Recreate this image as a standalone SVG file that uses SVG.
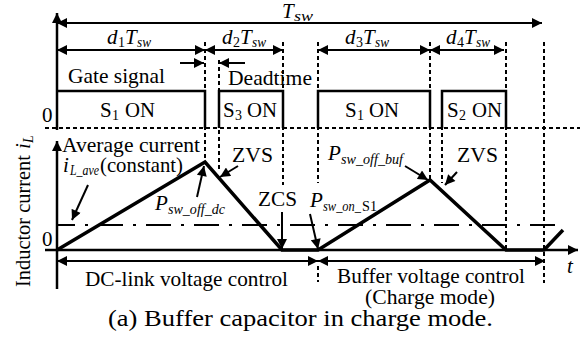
<svg xmlns="http://www.w3.org/2000/svg" width="580" height="342" viewBox="0 0 580 342" font-family="'Liberation Serif', Tinos, 'Times New Roman', Times, serif">
<style>
text{font-family:"Liberation Serif",Tinos,"Times New Roman",Times,serif;font-size:21px;fill:#000}
.it{font-style:italic}
.sub{font-size:14px}
.ps{font-size:14.5px;font-style:italic}
.ln{stroke:#000;fill:none;stroke-width:2}
.ax{stroke:#000;fill:none;stroke-width:2.5}
.dash{stroke:#000;fill:none;stroke-width:2;stroke-dasharray:4,3}
.pulse{stroke:#000;fill:none;stroke-width:2.5}
.wave{stroke:#000;fill:none;stroke-width:3.5;stroke-linejoin:miter}
.avg{stroke:#000;fill:none;stroke-width:2;stroke-dasharray:25,10,3,10;stroke-dashoffset:7}
</style>
<defs>
<marker id="ah" viewBox="0 0 10 10" refX="10" refY="5" markerWidth="11" markerHeight="10" markerUnits="userSpaceOnUse" orient="auto-start-reverse"><path d="M0,0 L10,5 L0,10 z" fill="#000"/></marker>
</defs>
<rect width="580" height="342" fill="#fff"/>
<g id="connectors">
<line class="ax" x1="57" y1="130" x2="57" y2="13" marker-end="url(#ah)"/>
<line class="ax" x1="57" y1="289" x2="57" y2="141" marker-end="url(#ah)"/>
<line class="ax" x1="45" y1="250" x2="578" y2="250" marker-end="url(#ah)"/>
<line class="dash" x1="45" y1="128" x2="580" y2="128"/>
<line class="ln" x1="57" y1="23" x2="542" y2="23" marker-start="url(#ah)" marker-end="url(#ah)"/>
<line class="ln" x1="57" y1="50" x2="205" y2="50" marker-start="url(#ah)" marker-end="url(#ah)"/>
<line class="ln" x1="205" y1="50" x2="283" y2="50" marker-start="url(#ah)" marker-end="url(#ah)"/>
<line class="ln" x1="318" y1="50" x2="430" y2="50" marker-start="url(#ah)" marker-end="url(#ah)"/>
<line class="ln" x1="430" y1="50" x2="504" y2="50" marker-start="url(#ah)" marker-end="url(#ah)"/>
<line class="ln" x1="180" y1="63" x2="204" y2="63" marker-end="url(#ah)"/>
<line class="ln" x1="245" y1="63" x2="219" y2="63" marker-end="url(#ah)"/>
<line class="ln" x1="57" y1="261" x2="318" y2="261" marker-start="url(#ah)" marker-end="url(#ah)"/>
<line class="ln" x1="318" y1="261" x2="545" y2="261" marker-start="url(#ah)" marker-end="url(#ah)"/>
<line class="dash" x1="205" y1="42" x2="205" y2="162"/>
<line class="dash" x1="219" y1="60" x2="219" y2="172"/>
<line class="dash" x1="283" y1="42" x2="283" y2="185"/>
<line class="dash" x1="318" y1="42" x2="318" y2="183"/>
<line class="dash" x1="318" y1="266" x2="318" y2="282"/>
<line class="dash" x1="430" y1="42" x2="430" y2="180"/>
<line class="dash" x1="442" y1="91" x2="442" y2="183"/>
<line class="dash" x1="506" y1="42" x2="506" y2="250"/>
<line class="dash" x1="544" y1="42" x2="544" y2="283"/>
<path class="pulse" d="M57,91 H205 V128"/>
<path class="pulse" d="M219,128 V91 H283 V128"/>
<path class="pulse" d="M318,128 V91 H430 V128"/>
<path class="pulse" d="M442,128 V91 H506 V128"/>
<line class="avg" x1="57" y1="225" x2="565" y2="225"/>
<path class="wave" d="M57,250 L205,162 L282,250 H318 L430,180 L506,250 H544 L563,230"/>
<line class="ln" x1="88" y1="185" x2="72" y2="220" marker-end="url(#ah)"/>
<line class="ln" x1="197" y1="197" x2="204" y2="166" marker-end="url(#ah)"/>
<line class="ln" x1="238" y1="166" x2="220" y2="177" marker-end="url(#ah)"/>
<line class="ln" x1="282" y1="212" x2="282" y2="249" marker-end="url(#ah)"/>
<line class="ln" x1="310" y1="214" x2="318" y2="249" marker-end="url(#ah)"/>
<line class="ln" x1="405" y1="166" x2="428" y2="180" marker-end="url(#ah)"/>
<line class="ln" x1="457" y1="172" x2="445" y2="185" marker-end="url(#ah)"/>
</g>
<g id="labels-time">
<text y="18"><tspan class="it" x="282">T</tspan><tspan class="it sub" x="294" dy="3" textLength="19" lengthAdjust="spacingAndGlyphs">sw</tspan></text>
<text y="44"><tspan class="it" x="107">d</tspan><tspan class="sub" x="118" dy="3">1</tspan><tspan class="it" x="125" dy="-3">T</tspan><tspan class="it sub" x="137" dy="3" textLength="14" lengthAdjust="spacingAndGlyphs">sw</tspan></text>
<text y="44"><tspan class="it" x="222">d</tspan><tspan class="sub" x="233" dy="3">2</tspan><tspan class="it" x="240" dy="-3">T</tspan><tspan class="it sub" x="252" dy="3" textLength="14" lengthAdjust="spacingAndGlyphs">sw</tspan></text>
<text y="44"><tspan class="it" x="345">d</tspan><tspan class="sub" x="356" dy="3">3</tspan><tspan class="it" x="363" dy="-3">T</tspan><tspan class="it sub" x="375" dy="3" textLength="14" lengthAdjust="spacingAndGlyphs">sw</tspan></text>
<text y="44"><tspan class="it" x="446">d</tspan><tspan class="sub" x="457" dy="3">4</tspan><tspan class="it" x="464" dy="-3">T</tspan><tspan class="it sub" x="476" dy="3" textLength="14" lengthAdjust="spacingAndGlyphs">sw</tspan></text>
</g>
<g id="gate">
<text x="68" y="83" textLength="97" lengthAdjust="spacingAndGlyphs">Gate signal</text>
<text x="228" y="85" textLength="84" lengthAdjust="spacingAndGlyphs">Deadtime</text>
<text x="42" y="122">0</text>
<text y="117"><tspan x="100">S</tspan><tspan class="sub" x="112" dy="3">1</tspan><tspan x="125" dy="-3" textLength="30" lengthAdjust="spacingAndGlyphs">ON</tspan></text>
<text y="117"><tspan x="223">S</tspan><tspan class="sub" x="235" dy="3">3</tspan><tspan x="247" dy="-3" textLength="30" lengthAdjust="spacingAndGlyphs">ON</tspan></text>
<text y="117"><tspan x="345">S</tspan><tspan class="sub" x="357" dy="3">1</tspan><tspan x="369" dy="-3" textLength="30" lengthAdjust="spacingAndGlyphs">ON</tspan></text>
<text y="117"><tspan x="447">S</tspan><tspan class="sub" x="459" dy="3">2</tspan><tspan x="472" dy="-3" textLength="30" lengthAdjust="spacingAndGlyphs">ON</tspan></text>
</g>
<g id="current">
<text x="62" y="152" textLength="138" lengthAdjust="spacingAndGlyphs">Average current</text>
<text y="172"><tspan class="it" x="63">i</tspan><tspan class="it sub" x="70" dy="3" textLength="29" lengthAdjust="spacingAndGlyphs">L_ave</tspan><tspan x="100" dy="-3" textLength="83" lengthAdjust="spacingAndGlyphs">(constant)</tspan></text>
<text x="232" y="162" textLength="41" lengthAdjust="spacingAndGlyphs">ZVS</text>
<text x="457" y="162" textLength="41" lengthAdjust="spacingAndGlyphs">ZVS</text>
<text x="258" y="206" textLength="39" lengthAdjust="spacingAndGlyphs">ZCS</text>
<text y="210"><tspan class="it" x="155">P</tspan><tspan class="ps" x="168" dy="4" textLength="57" lengthAdjust="spacingAndGlyphs">sw_off_dc</tspan></text>
<text y="207"><tspan class="it" x="310">P</tspan><tspan class="ps" x="323" dy="4" textLength="38" lengthAdjust="spacingAndGlyphs">sw_on_</tspan><tspan style="font-size:14.5px" x="362" textLength="15" lengthAdjust="spacingAndGlyphs">S1</tspan></text>
<text y="160"><tspan class="it" x="328">P</tspan><tspan class="ps" x="341" dy="4" textLength="62" lengthAdjust="spacingAndGlyphs">sw_off_buf</tspan></text>
<text x="42" y="246">0</text>
<text transform="translate(30,287) rotate(-90)" y="0"><tspan x="0" textLength="132" lengthAdjust="spacingAndGlyphs">Inductor current</tspan><tspan class="it" x="138">i</tspan><tspan class="it sub" x="144" dy="3">L</tspan></text>
</g>
<g id="modes">
<text x="85" y="286" textLength="203" lengthAdjust="spacingAndGlyphs">DC-link voltage control</text>
<text x="337" y="283" textLength="188" lengthAdjust="spacingAndGlyphs">Buffer voltage control</text>
<text x="365" y="304" textLength="130" lengthAdjust="spacingAndGlyphs">(Charge mode)</text>
<text x="567" y="273" class="it">t</text>
</g>
<text x="108" y="326" style="font-size:24px" textLength="385" lengthAdjust="spacingAndGlyphs">(a) Buffer capacitor in charge mode.</text>
</svg>
